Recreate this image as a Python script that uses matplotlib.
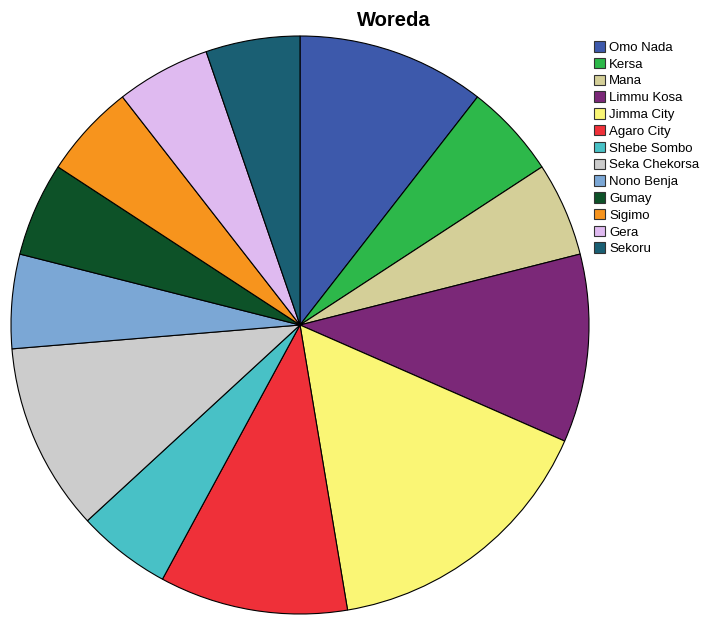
import matplotlib
matplotlib.use("Agg")
import matplotlib.pyplot as plt
from matplotlib.patches import Patch

plt.rcParams['font.family'] = ['Liberation Sans', 'DejaVu Sans']

labels = ["Omo Nada", "Kersa", "Mana", "Limmu Kosa", "Jimma City", "Agaro City",
          "Shebe Sombo", "Seka Chekorsa", "Nono Benja", "Gumay", "Sigimo", "Gera", "Sekoru"]
counts = [2, 1, 1, 2, 3, 2, 1, 2, 1, 1, 1, 1, 1]
colors = ["#3d59ab", "#2db84a", "#d4cf98", "#7b2878", "#faf675", "#ef3039",
          "#48c1c6", "#cccccc", "#7ba7d5", "#0d5228", "#f7941d", "#dfbaf0", "#1a5f73"]

W, H = 704, 617
fig = plt.figure(figsize=(W / 100, H / 100), dpi=100)
cx, cy, r = 300, 325, 289
ax = fig.add_axes([(cx - r) / W, (H - cy - r) / H, 2 * r / W, 2 * r / H])
ax.pie(counts, colors=colors, startangle=90, counterclock=False,
       wedgeprops=dict(edgecolor="black", linewidth=0.8))
ax.set_aspect("equal")
ax.set_xlim(-1, 1)
ax.set_ylim(-1, 1)
ax.axis("off")

fig.text(394 / W, 1 - 20 / H, "Woreda", ha="center", va="center",
         fontsize=14.5, fontweight="bold")

handles = [Patch(facecolor=c, edgecolor="#333333", linewidth=0.8) for c in colors]
fig.legend(handles, labels, loc="upper left", bbox_to_anchor=(594 / W, 1 - 41 / H),
           frameon=False, fontsize=9.5, handlelength=0.85, handleheight=0.85,
           handletextpad=0.3, labelspacing=0.3, borderaxespad=0, borderpad=0)

fig.savefig("out.png", dpi=100)
